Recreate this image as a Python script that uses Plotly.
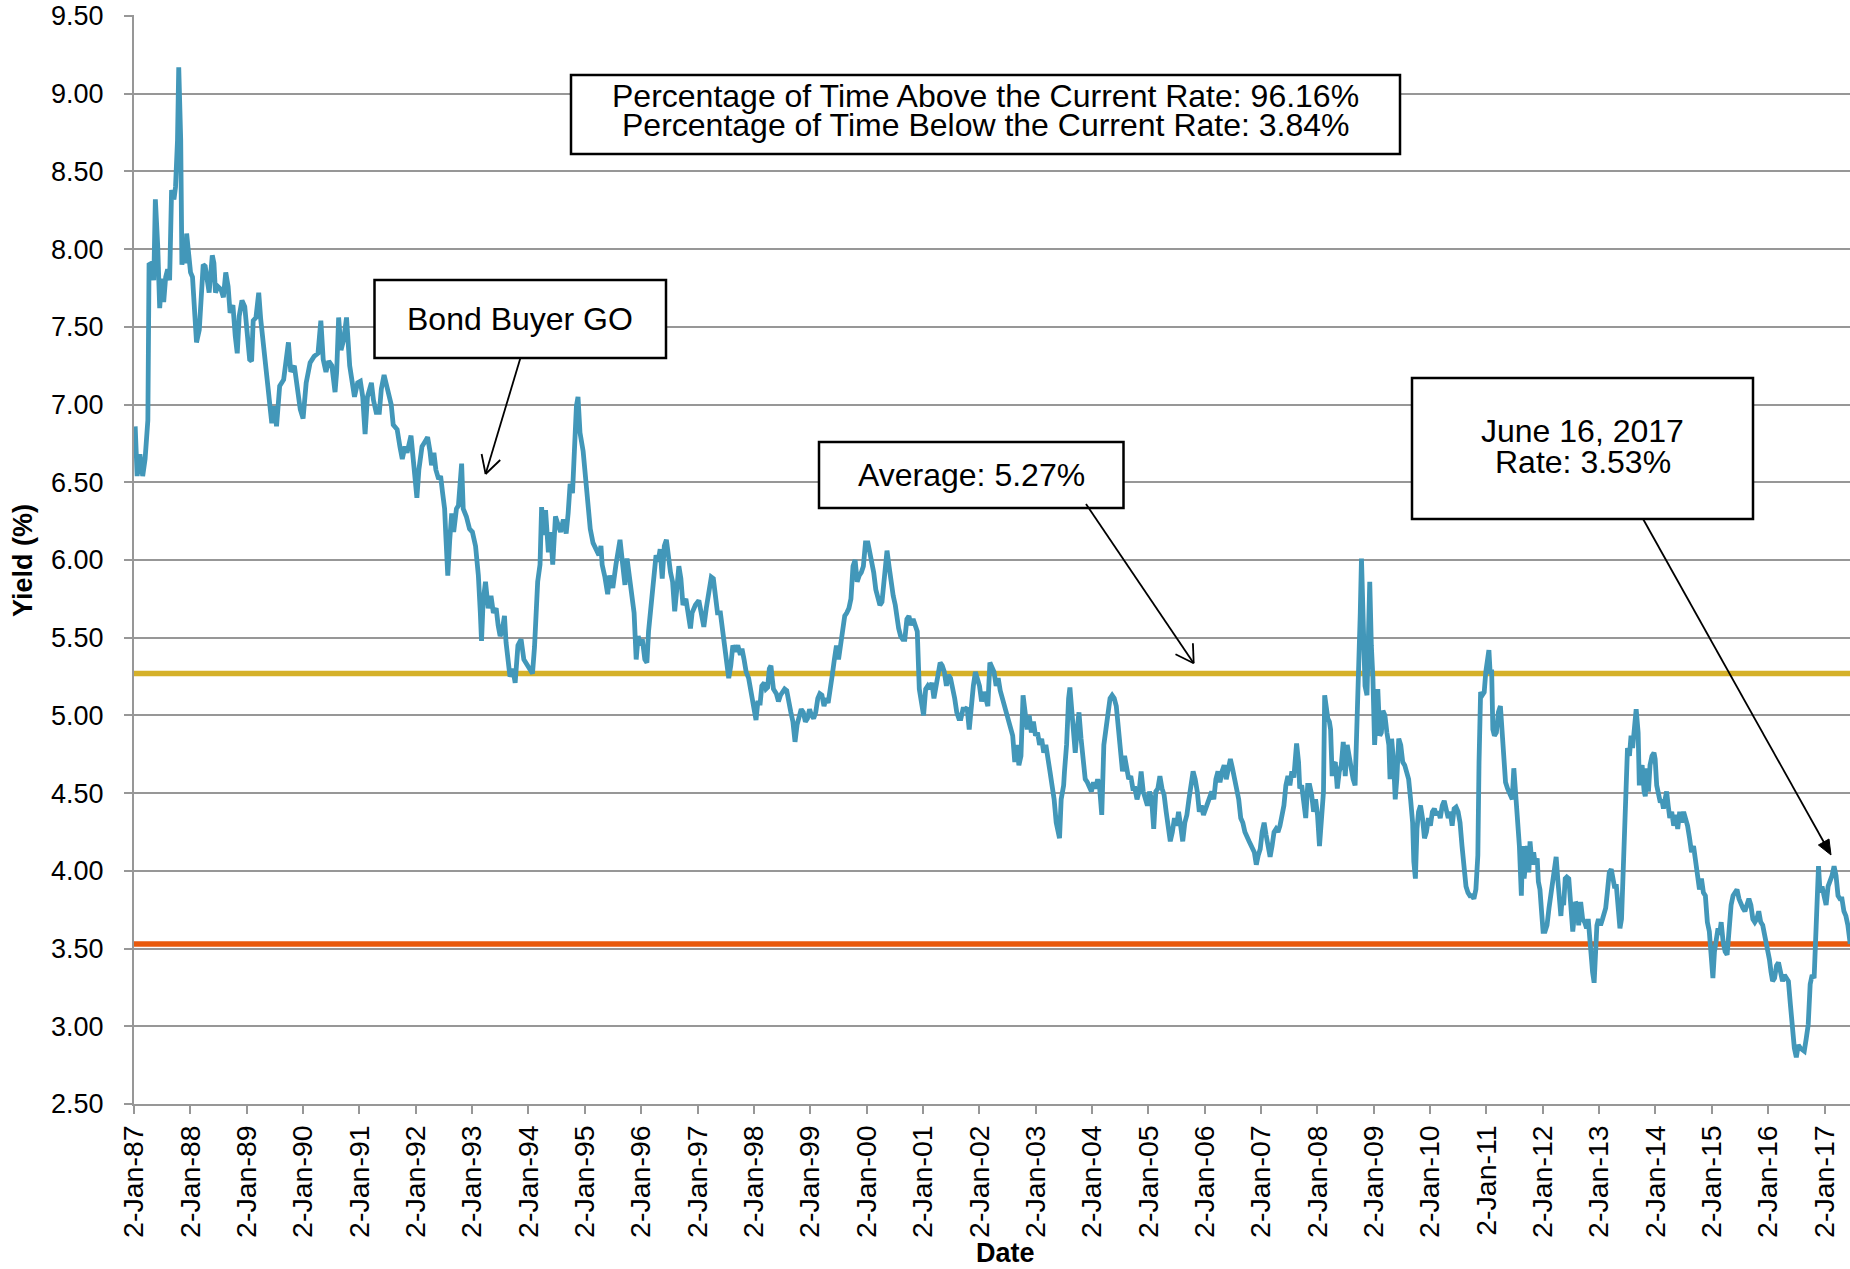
import pandas as pd
import plotly.graph_objects as go

# ---------------- DATA ----------------
# decimal years (measured from 2 Jan of each year) and Bond Buyer GO yields (%)
years_a = [1987.021, 1987.056, 1987.105, 1987.154, 1987.197, 1987.246, 1987.267, 1987.316, 1987.351, 1987.379,
           1987.421, 1987.456, 1987.492, 1987.527, 1987.562, 1987.597, 1987.632, 1987.667, 1987.709, 1987.737,
           1987.772, 1987.794, 1987.829, 1987.850, 1987.885, 1987.913, 1987.934, 1987.969, 1988.004, 1988.039,
           1988.067, 1988.088, 1988.110, 1988.159, 1988.194, 1988.229, 1988.264, 1988.299, 1988.334, 1988.390,
           1988.419, 1988.447, 1988.489, 1988.545, 1988.587, 1988.629, 1988.671, 1988.706, 1988.756, 1988.798,
           1988.833, 1988.868, 1988.917, 1988.966, 1989.001, 1989.051, 1989.086, 1989.114, 1989.163, 1989.212,
           1989.247, 1989.289, 1989.331, 1989.374, 1989.423, 1989.444, 1989.493, 1989.528, 1989.584, 1989.654,
           1989.739, 1989.781, 1989.844, 1989.893, 1989.949, 1989.999, 1990.055, 1990.125, 1990.195, 1990.265,
           1990.315, 1990.357, 1990.406, 1990.455, 1990.511, 1990.567, 1990.596, 1990.631, 1990.673, 1990.722,
           1990.771, 1990.827, 1990.876, 1990.912, 1990.968, 1991.017, 1991.059, 1991.101, 1991.143, 1991.213,
           1991.249, 1991.298, 1991.354, 1991.389, 1991.438, 1991.494, 1991.565, 1991.600, 1991.670, 1991.719,
           1991.761, 1991.810, 1991.846, 1991.916, 1991.951, 1991.986, 1992.021, 1992.056, 1992.112, 1992.162,
           1992.211, 1992.253, 1992.281, 1992.323, 1992.358, 1992.407, 1992.442, 1992.478, 1992.513, 1992.534,
           1992.569, 1992.604, 1992.639, 1992.674, 1992.723, 1992.758, 1992.815, 1992.843, 1992.899, 1992.955,
           1993.004, 1993.060, 1993.110, 1993.145, 1993.166, 1993.194, 1993.236, 1993.285, 1993.334, 1993.376,
           1993.426, 1993.461, 1993.496, 1993.531, 1993.573, 1993.601, 1993.636, 1993.671, 1993.721, 1993.763,
           1993.812, 1993.868, 1993.917, 1993.973, 1994.022, 1994.071, 1994.107, 1994.142, 1994.163, 1994.205,
           1994.233, 1994.268, 1994.303, 1994.353, 1994.395, 1994.430, 1994.479, 1994.514, 1994.570, 1994.619,
           1994.669, 1994.704, 1994.739, 1994.781, 1994.816, 1994.851, 1994.879, 1994.914, 1994.970, 1995.020,
           1995.055, 1995.097, 1995.146, 1995.202, 1995.251, 1995.287, 1995.308, 1995.357, 1995.406, 1995.441,
           1995.497, 1995.553, 1995.602]
yields_a = [6.86, 6.54, 6.68, 6.54, 6.65, 6.90, 7.90, 7.91, 7.80, 8.32,
            8.02, 7.62, 7.81, 7.66, 7.82, 7.87, 7.80, 8.38, 8.32, 8.40,
            8.70, 9.17, 8.70, 7.90, 7.97, 7.91, 8.10, 7.97, 7.85, 7.82,
            7.59, 7.50, 7.40, 7.48, 7.74, 7.90, 7.89, 7.78, 7.72, 7.96,
            7.91, 7.72, 7.76, 7.74, 7.69, 7.85, 7.76, 7.59, 7.64, 7.44,
            7.33, 7.57, 7.67, 7.63, 7.46, 7.29, 7.28, 7.54, 7.56, 7.72,
            7.55, 7.38, 7.25, 7.12, 6.95, 6.88, 6.99, 6.86, 7.12, 7.16,
            7.40, 7.21, 7.25, 7.12, 6.97, 6.91, 7.14, 7.27, 7.31, 7.33,
            7.54, 7.29, 7.21, 7.28, 7.25, 7.08, 7.21, 7.56, 7.35, 7.42,
            7.56, 7.25, 7.14, 7.05, 7.14, 7.15, 7.05, 6.81, 7.05, 7.14,
            7.03, 6.95, 6.95, 7.10, 7.19, 7.10, 7.00, 6.87, 6.84, 6.73,
            6.65, 6.73, 6.69, 6.80, 6.67, 6.52, 6.40, 6.58, 6.73, 6.76,
            6.79, 6.70, 6.61, 6.69, 6.58, 6.52, 6.54, 6.43, 6.33, 6.16,
            5.90, 6.13, 6.30, 6.18, 6.33, 6.35, 6.62, 6.33, 6.28, 6.20,
            6.18, 6.09, 5.90, 5.66, 5.48, 5.73, 5.86, 5.69, 5.77, 5.66,
            5.69, 5.58, 5.51, 5.54, 5.64, 5.47, 5.34, 5.25, 5.30, 5.21,
            5.45, 5.49, 5.36, 5.33, 5.30, 5.27, 5.44, 5.66, 5.86, 5.97,
            6.34, 6.16, 6.32, 6.05, 6.18, 5.97, 6.28, 6.24, 6.18, 6.26,
            6.17, 6.30, 6.49, 6.43, 6.73, 6.99, 7.05, 6.82, 6.70, 6.49,
            6.43, 6.20, 6.11, 6.07, 6.03, 6.09, 5.97, 5.89, 5.78, 5.90,
            5.82, 5.97, 6.11]

years_b = [1995.625, 1995.676, 1995.713, 1995.750, 1995.787, 1995.845, 1995.875, 1995.912, 1995.948, 1995.993,
           1996.022, 1996.066, 1996.103, 1996.132, 1996.169, 1996.206, 1996.243, 1996.265, 1996.302, 1996.338,
           1996.375, 1996.412, 1996.449, 1996.486, 1996.522, 1996.559, 1996.596, 1996.633, 1996.670, 1996.706,
           1996.743, 1996.795, 1996.839, 1996.876, 1996.905, 1996.964, 1997.023, 1997.074, 1997.111, 1997.155,
           1997.199, 1997.244, 1997.280, 1997.317, 1997.354, 1997.405, 1997.450, 1997.479, 1997.516, 1997.553,
           1997.589, 1997.626, 1997.670, 1997.714, 1997.759, 1997.788, 1997.825, 1997.862, 1997.906, 1997.935,
           1997.972, 1998.009, 1998.038, 1998.068, 1998.112, 1998.141, 1998.185, 1998.215, 1998.244, 1998.274,
           1998.303, 1998.325, 1998.347, 1998.399, 1998.436, 1998.472, 1998.509, 1998.546, 1998.583, 1998.620,
           1998.656, 1998.693, 1998.730, 1998.767, 1998.804, 1998.840, 1998.877, 1998.914, 1998.951, 1998.988,
           1999.024, 1999.061, 1999.098, 1999.135, 1999.171, 1999.208, 1999.245, 1999.282, 1999.319, 1999.355,
           1999.392, 1999.429, 1999.466, 1999.503, 1999.539, 1999.576, 1999.613, 1999.650, 1999.687, 1999.723,
           1999.760, 1999.797, 1999.834, 1999.871, 1999.907, 1999.944, 1999.981, 2000.025, 2000.054, 2000.091,
           2000.128, 2000.165, 2000.202, 2000.238, 2000.275, 2000.319, 2000.364, 2000.400, 2000.437, 2000.474,
           2000.511, 2000.540, 2000.570, 2000.606, 2000.643, 2000.680, 2000.717, 2000.753, 2000.790, 2000.827,
           2000.864, 2000.901, 2000.937, 2000.974, 2001.011, 2001.048, 2001.085, 2001.121, 2001.158, 2001.195,
           2001.232, 2001.269, 2001.305, 2001.342, 2001.379, 2001.416, 2001.453, 2001.489, 2001.526, 2001.563,
           2001.600, 2001.637, 2001.673, 2001.710, 2001.747, 2001.784, 2001.821, 2001.857, 2001.894, 2001.931,
           2001.968, 2002.004, 2002.041, 2002.078, 2002.115, 2002.152, 2002.188, 2002.225, 2002.262, 2002.299,
           2002.336, 2002.372, 2002.409, 2002.446, 2002.483, 2002.520, 2002.556, 2002.593, 2002.630, 2002.667,
           2002.703, 2002.740, 2002.777, 2002.814, 2002.851, 2002.887, 2002.924, 2002.961, 2002.998, 2003.035,
           2003.071, 2003.108, 2003.145, 2003.182, 2003.219, 2003.255, 2003.292, 2003.329, 2003.366, 2003.425,
           2003.454, 2003.498, 2003.513, 2003.550, 2003.586, 2003.609, 2003.645, 2003.675, 2003.704, 2003.734,
           2003.770, 2003.807, 2003.844, 2003.881, 2003.918, 2003.954, 2003.991, 2004.028, 2004.065, 2004.102,
           2004.138, 2004.175, 2004.212, 2004.249, 2004.286, 2004.322, 2004.359, 2004.396, 2004.433, 2004.470,
           2004.506, 2004.543, 2004.580, 2004.617, 2004.653, 2004.690, 2004.727, 2004.764, 2004.801, 2004.837,
           2004.874, 2004.911, 2004.948, 2004.985, 2005.021, 2005.058, 2005.095, 2005.132, 2005.169, 2005.205,
           2005.242, 2005.279, 2005.316, 2005.353, 2005.389, 2005.426, 2005.463, 2005.500, 2005.536, 2005.573,
           2005.610, 2005.647, 2005.684, 2005.720, 2005.757, 2005.794, 2005.831, 2005.868, 2005.904, 2005.941,
           2005.978, 2006.015, 2006.052, 2006.088, 2006.125, 2006.162, 2006.199, 2006.236, 2006.272, 2006.309,
           2006.346, 2006.383, 2006.420, 2006.456, 2006.493, 2006.530, 2006.567, 2006.604, 2006.640, 2006.677,
           2006.714, 2006.751, 2006.788]
yields_b = [6.13, 5.96, 5.84, 6.01, 5.92, 5.75, 5.66, 5.36, 5.51, 5.45,
            5.49, 5.36, 5.34, 5.54, 5.66, 5.84, 5.92, 6.03, 5.99, 6.07,
            5.88, 6.09, 6.13, 6.01, 5.92, 5.86, 5.67, 5.81, 5.96, 5.88,
            5.71, 5.75, 5.66, 5.56, 5.66, 5.71, 5.74, 5.66, 5.57, 5.69,
            5.79, 5.89, 5.88, 5.77, 5.66, 5.66, 5.54, 5.47, 5.39, 5.24,
            5.32, 5.45, 5.41, 5.45, 5.39, 5.43, 5.36, 5.28, 5.24, 5.17,
            5.13, 5.04, 4.97, 5.08, 5.08, 5.19, 5.21, 5.17, 5.18, 5.30,
            5.32, 5.24, 5.17, 5.14, 5.09, 5.13, 5.15, 5.17, 5.16, 5.06,
            5.02, 4.96, 4.83, 4.94, 5.00, 5.04, 5.02, 4.96, 4.98, 5.04,
            5.00, 4.98, 5.02, 5.11, 5.14, 5.13, 5.06, 5.11, 5.08, 5.15,
            5.26, 5.36, 5.45, 5.36, 5.45, 5.54, 5.64, 5.66, 5.69, 5.75,
            5.96, 6.00, 5.86, 5.90, 5.92, 5.96, 6.11, 6.11, 6.05, 6.01,
            5.92, 5.81, 5.75, 5.71, 5.73, 5.94, 6.06, 5.96, 5.84, 5.77,
            5.71, 5.62, 5.56, 5.51, 5.49, 5.49, 5.62, 5.64, 5.58, 5.62,
            5.58, 5.54, 5.17, 5.06, 5.00, 5.17, 5.19, 5.17, 5.21, 5.11,
            5.19, 5.30, 5.34, 5.32, 5.28, 5.19, 5.26, 5.24, 5.19, 5.11,
            5.02, 4.98, 4.98, 5.04, 5.04, 5.05, 4.91, 5.09, 5.19, 5.28,
            5.24, 5.19, 5.09, 5.15, 5.11, 5.06, 5.34, 5.30, 5.28, 5.19,
            5.24, 5.16, 5.11, 5.06, 5.03, 4.98, 4.94, 4.87, 4.70, 4.81,
            4.68, 4.74, 5.13, 5.02, 4.91, 5.00, 4.89, 4.96, 4.87, 4.89,
            4.81, 4.85, 4.76, 4.81, 4.70, 4.64, 4.55, 4.46, 4.31, 4.21,
            4.46, 4.55, 4.64, 4.81, 5.11, 5.18, 5.02, 4.89, 4.76, 4.89,
            5.02, 4.85, 4.74, 4.59, 4.57, 4.53, 4.51, 4.57, 4.53, 4.59,
            4.53, 4.36, 4.81, 4.91, 5.02, 5.11, 5.13, 5.11, 5.06, 4.89,
            4.81, 4.64, 4.74, 4.66, 4.59, 4.61, 4.53, 4.53, 4.46, 4.51,
            4.64, 4.51, 4.46, 4.42, 4.51, 4.46, 4.27, 4.51, 4.53, 4.61,
            4.53, 4.49, 4.38, 4.27, 4.19, 4.25, 4.34, 4.29, 4.38, 4.29,
            4.19, 4.31, 4.36, 4.46, 4.55, 4.64, 4.59, 4.51, 4.38, 4.42,
            4.36, 4.40, 4.44, 4.46, 4.51, 4.46, 4.59, 4.64, 4.57, 4.64,
            4.68, 4.59, 4.68, 4.72, 4.66, 4.59, 4.51, 4.46, 4.34, 4.31,
            4.25, 4.21, 4.19]

years_c = [2006.881, 2006.916, 2006.951, 2006.986, 2007.021, 2007.056, 2007.091, 2007.126, 2007.162, 2007.197,
           2007.232, 2007.267, 2007.302, 2007.337, 2007.372, 2007.407, 2007.442, 2007.478, 2007.513, 2007.548,
           2007.583, 2007.632, 2007.667, 2007.688, 2007.723, 2007.758, 2007.794, 2007.829, 2007.864, 2007.899,
           2007.934, 2007.969, 2008.004, 2008.039, 2008.074, 2008.110, 2008.131, 2008.159, 2008.187, 2008.215,
           2008.236, 2008.264, 2008.285, 2008.320, 2008.355, 2008.390, 2008.426, 2008.461, 2008.496, 2008.531,
           2008.566, 2008.601, 2008.636, 2008.671, 2008.706, 2008.742, 2008.763, 2008.784, 2008.812, 2008.847,
           2008.882, 2008.903, 2008.931, 2008.959, 2008.987, 2009.015, 2009.044, 2009.072, 2009.107, 2009.135,
           2009.163, 2009.198, 2009.233, 2009.268, 2009.289, 2009.317, 2009.353, 2009.381, 2009.409, 2009.444,
           2009.479, 2009.514, 2009.549, 2009.584, 2009.619, 2009.654, 2009.690, 2009.711, 2009.739, 2009.767,
           2009.795, 2009.830, 2009.865, 2009.900, 2009.935, 2009.970, 2010.006, 2010.041, 2010.076, 2010.111,
           2010.146, 2010.181, 2010.216, 2010.251, 2010.287, 2010.322, 2010.357, 2010.392, 2010.427, 2010.462,
           2010.497, 2010.532, 2010.567, 2010.603, 2010.638, 2010.673, 2010.708, 2010.743, 2010.778, 2010.813,
           2010.848, 2010.869, 2010.897, 2010.926, 2010.961, 2010.989, 2011.024, 2011.045, 2011.066, 2011.094,
           2011.115, 2011.143, 2011.178, 2011.213, 2011.249, 2011.277, 2011.305, 2011.340, 2011.375, 2011.417,
           2011.459, 2011.487, 2011.515, 2011.551, 2011.586, 2011.621, 2011.642, 2011.670, 2011.698, 2011.726,
           2011.754, 2011.775, 2011.810, 2011.839, 2011.867, 2011.902, 2011.923, 2011.951, 2011.979, 2012.007,
           2012.042, 2012.077, 2012.112, 2012.147, 2012.183, 2012.218, 2012.239, 2012.267, 2012.288, 2012.323,
           2012.344, 2012.372, 2012.400, 2012.428, 2012.463, 2012.499, 2012.534, 2012.555, 2012.583, 2012.611,
           2012.639, 2012.674, 2012.709, 2012.744, 2012.779, 2012.808, 2012.836, 2012.857, 2012.885, 2012.913,
           2012.934, 2012.962, 2012.990, 2013.025, 2013.060, 2013.088, 2013.116, 2013.145, 2013.180, 2013.215,
           2013.243, 2013.271, 2013.306, 2013.341, 2013.369, 2013.397, 2013.426, 2013.454, 2013.482, 2013.503,
           2013.538, 2013.566, 2013.594, 2013.622, 2013.657, 2013.692, 2013.713, 2013.735, 2013.763, 2013.798,
           2013.819, 2013.847, 2013.875, 2013.903, 2013.938, 2013.973, 2013.994, 2014.022, 2014.058, 2014.086,
           2014.114, 2014.142, 2014.170, 2014.198, 2014.226, 2014.254, 2014.289, 2014.324, 2014.360, 2014.395,
           2014.430, 2014.465, 2014.500, 2014.535, 2014.570, 2014.605, 2014.640, 2014.676, 2014.711, 2014.746,
           2014.781, 2014.816, 2014.851, 2014.886, 2014.921, 2014.956, 2014.992, 2015.020, 2015.048, 2015.076,
           2015.111, 2015.139, 2015.167, 2015.202, 2015.237, 2015.272, 2015.308, 2015.343, 2015.378, 2015.413,
           2015.448, 2015.483, 2015.518, 2015.553, 2015.588, 2015.624, 2015.659, 2015.694, 2015.729, 2015.764,
           2015.799, 2015.834, 2015.869, 2015.904, 2015.940, 2015.975, 2015.996, 2016.024, 2016.052, 2016.080,
           2016.115, 2016.150, 2016.185, 2016.221, 2016.256, 2016.291, 2016.326, 2016.361, 2016.396, 2016.431,
           2016.466, 2016.501, 2016.537, 2016.572, 2016.607, 2016.642, 2016.677, 2016.712, 2016.747, 2016.782,
           2016.817, 2016.838, 2016.867, 2016.895, 2016.923, 2016.958, 2016.993, 2017.028, 2017.063, 2017.098,
           2017.133, 2017.169, 2017.204, 2017.239, 2017.274, 2017.309, 2017.344, 2017.379, 2017.414, 2017.456]
yields_c = [4.12, 4.04, 4.10, 4.14, 4.25, 4.31, 4.23, 4.16, 4.09, 4.16,
            4.25, 4.27, 4.25, 4.29, 4.34, 4.42, 4.55, 4.61, 4.55, 4.64,
            4.60, 4.82, 4.70, 4.53, 4.55, 4.46, 4.34, 4.55, 4.55, 4.49,
            4.38, 4.46, 4.36, 4.16, 4.34, 4.51, 5.13, 5.02, 4.98, 4.96,
            4.91, 4.61, 4.68, 4.70, 4.53, 4.64, 4.68, 4.83, 4.61, 4.81,
            4.72, 4.68, 4.59, 4.55, 4.91, 5.28, 5.66, 6.01, 5.56, 5.19,
            5.13, 5.45, 5.86, 5.45, 5.24, 4.81, 5.02, 5.17, 4.87, 4.89,
            5.03, 5.00, 4.89, 4.81, 4.59, 4.85, 4.70, 4.46, 4.59, 4.85,
            4.81, 4.70, 4.68, 4.64, 4.59, 4.46, 4.31, 4.06, 3.95, 4.27,
            4.38, 4.42, 4.34, 4.21, 4.25, 4.34, 4.29, 4.38, 4.40, 4.36,
            4.38, 4.34, 4.42, 4.45, 4.38, 4.34, 4.38, 4.29, 4.40, 4.41,
            4.38, 4.31, 4.16, 4.01, 3.90, 3.86, 3.84, 3.84, 3.82, 3.88,
            4.10, 4.70, 5.15, 5.13, 5.15, 5.28, 5.41, 5.42, 5.28, 5.28,
            4.91, 4.87, 4.89, 5.02, 5.06, 4.91, 4.70, 4.57, 4.53, 4.49,
            4.46, 4.66, 4.53, 4.38, 4.16, 3.84, 4.16, 3.95, 4.10, 4.16,
            3.99, 4.19, 4.04, 4.12, 4.04, 4.08, 3.93, 3.88, 3.74, 3.61,
            3.61, 3.65, 3.76, 3.86, 3.99, 4.04, 4.09, 3.95, 3.82, 3.71,
            3.82, 3.78, 3.95, 3.96, 3.95, 3.76, 3.61, 3.69, 3.80, 3.78,
            3.65, 3.80, 3.69, 3.67, 3.63, 3.69, 3.56, 3.39, 3.35, 3.28,
            3.46, 3.65, 3.69, 3.65, 3.69, 3.74, 3.76, 3.86, 3.99, 4.01,
            3.97, 3.90, 3.90, 3.78, 3.63, 3.69, 4.06, 4.38, 4.64, 4.79,
            4.74, 4.87, 4.79, 4.91, 5.04, 4.89, 4.55, 4.64, 4.68, 4.51,
            4.48, 4.66, 4.51, 4.68, 4.74, 4.76, 4.72, 4.55, 4.49, 4.44,
            4.46, 4.40, 4.46, 4.51, 4.42, 4.34, 4.38, 4.29, 4.36, 4.27,
            4.38, 4.31, 4.38, 4.34, 4.29, 4.21, 4.12, 4.16, 4.08, 3.99,
            3.88, 3.95, 3.86, 3.84, 3.67, 3.61, 3.39, 3.31, 3.48, 3.56,
            3.63, 3.59, 3.67, 3.54, 3.48, 3.46, 3.69, 3.78, 3.84, 3.86,
            3.88, 3.82, 3.78, 3.76, 3.74, 3.78, 3.82, 3.78, 3.69, 3.67,
            3.69, 3.74, 3.67, 3.65, 3.59, 3.54, 3.49, 3.43, 3.35, 3.29,
            3.31, 3.39, 3.41, 3.33, 3.29, 3.33, 3.31, 3.29, 3.14, 2.99,
            2.86, 2.80, 2.88, 2.86, 2.85, 2.84, 2.92, 3.01, 3.27, 3.33,
            3.31, 3.52, 3.88, 4.03, 3.86, 3.90, 3.84, 3.78, 3.90, 3.93,
            3.97, 4.03, 3.97, 3.84, 3.82, 3.82, 3.74, 3.71, 3.65, 3.53]

average_rate = 5.27
current_rate = 3.53
current_date = "2017-06-16"
start_date = "1987-01-02"
tick_years = list(range(1987, 2018))
tick_labels = ["2-Jan-%02d" % (y % 100) for y in tick_years]
y_ticks = [2.5, 3.0, 3.5, 4.0, 4.5, 5.0, 5.5, 6.0, 6.5, 7.0, 7.5, 8.0, 8.5, 9.0, 9.5]


def dec_to_date(d):
    yr = int(d)
    base = pd.Timestamp(yr, 1, 2)
    return base + pd.Timedelta(days=(d - yr) * 365.25)


years = years_a + years_b + years_c
yields = yields_a + yields_b + yields_c
dates = [dec_to_date(d) for d in years]

# ---------------- LAYOUT GEOMETRY ----------------
# body margin is reset to 0 by a post script, so figure pixels == page pixels
W_FIG, H_FIG = 1850, 1269
PX_PER_UNIT = 155.43
Y_LO, Y_HI = 2.5, 9.5 + 1.0 / PX_PER_UNIT          # a hair of headroom so the 9.50 grid line is drawn
PLOT_L, PLOT_R, PLOT_B = 134, 1850, 1104           # plot area in page pixels
PLOT_T = PLOT_B - (Y_HI - Y_LO) * PX_PER_UNIT
L = PLOT_L
T = PLOT_T
R = W_FIG - PLOT_R
B = H_FIG - PLOT_B
PW = PLOT_R - PLOT_L
PH = PLOT_B - PLOT_T


def px(x):
    return (x - PLOT_L) / PW


def py(y):
    return 1 - (y - PLOT_T) / PH


FONT = "Liberation Sans, Arial, Helvetica, sans-serif"
BLUE = "#4297B9"
GOLD = "#D5B12A"
ORANGE = "#E8590C"
GRID = "#979797"

fig = go.Figure()
fig.add_trace(go.Scatter(x=[start_date, current_date], y=[average_rate, average_rate], mode="lines",
                         line=dict(color=GOLD, width=5.5), hoverinfo="skip", showlegend=False))
fig.add_trace(go.Scatter(x=[start_date, current_date], y=[current_rate, current_rate], mode="lines",
                         line=dict(color=ORANGE, width=5.5), hoverinfo="skip", showlegend=False))
fig.add_trace(go.Scatter(x=dates, y=yields, mode="lines", line=dict(color=BLUE, width=4.8),
                         name="Bond Buyer GO", showlegend=False))

shapes = []
annotations = []


def box(x0, y0, x1, y1):
    shapes.append(dict(type="rect", xref="paper", yref="paper", x0=px(x0), x1=px(x1), y0=py(y1), y1=py(y0),
                       line=dict(color="black", width=2.5), fillcolor="white", layer="above"))


def text(x, y, s, size=32):
    annotations.append(dict(xref="paper", yref="paper", x=px(x), y=py(y), text=s, showarrow=False,
                            xanchor="center", yanchor="middle", font=dict(family=FONT, size=size, color="black")))


def seg(x0, y0, x1, y1, w=1.8):
    shapes.append(dict(type="line", xref="paper", yref="paper", x0=px(x0), y0=py(y0), x1=px(x1), y1=py(y1),
                       line=dict(color="black", width=w), layer="above"))


# boxes
box(571, 75, 1400, 154)
box(374.5, 280, 666, 358)
box(819, 442, 1123.5, 508)
box(1412, 378, 1753, 519)

text(985.5, 96, "Percentage of Time Above the Current Rate: 96.16%")
text(985.5, 125, "Percentage of Time Below the Current Rate: 3.84%")
text(520, 319, "Bond Buyer GO")
text(971, 475, "Average: 5.27%")
text(1582.5, 431, "June 16, 2017")
text(1582.5, 462, "Rate: 3.53%")

# arrows (open V heads)
seg(520.4, 358, 485.6, 474)
seg(485.6, 474, 481.6, 454)
seg(485.6, 474, 500.2, 460)
seg(1086, 504, 1193.7, 663.3)
seg(1193.7, 663.3, 1175.5, 654.3)
seg(1193.7, 663.3, 1192.9, 643.3)
# June arrow with filled head
seg(1643.2, 519.3, 1826, 846)
tip = (1831, 855)
b1 = (1818.4, 845.0)
b2 = (1829.0, 839.0)
shapes.append(dict(type="path", xref="paper", yref="paper",
                   path="M %f %f L %f %f L %f %f Z" % (px(tip[0]), py(tip[1]), px(b1[0]), py(b1[1]),
                                                         px(b2[0]), py(b2[1])),
                   fillcolor="black", line=dict(color="black", width=1), layer="above"))

# axis titles
annotations.append(dict(xref="paper", yref="paper", x=px(1005), y=py(1253), text="<b>Date</b>",
                        showarrow=False, xanchor="center", yanchor="middle",
                        font=dict(family=FONT, size=27, color="black")))
annotations.append(dict(xref="paper", yref="paper", x=px(23), y=py(561), text="<b>Yield (%)</b>",
                        showarrow=False, xanchor="center", yanchor="middle", textangle=-90,
                        font=dict(family=FONT, size=27, color="black")))

fig.update_layout(
    width=W_FIG, height=H_FIG,
    margin=dict(l=L, r=R, t=T, b=B, pad=0, autoexpand=False),
    paper_bgcolor="white", plot_bgcolor="white",
    font=dict(family=FONT, size=27, color="black"),
    showlegend=False,
    shapes=shapes, annotations=annotations,
    xaxis=dict(type="date", range=[start_date, current_date], automargin=False,
               tickmode="array", tickvals=["%d-01-02" % y for y in tick_years], ticktext=tick_labels,
               tickangle=-90, ticks="outside", ticklen=8, tickwidth=2, tickcolor=GRID,
               showgrid=False, showline=True, linecolor=GRID, linewidth=2,
               tickfont=dict(family=FONT, size=28.5, color="black"), ticklabelstandoff=0,
               ticklabeloverflow="allow", zeroline=False),
    yaxis=dict(range=[Y_LO, Y_HI], tickmode="array", tickvals=y_ticks, automargin=False,
               ticktext=["%.2f" % v for v in y_ticks],
               ticks="outside", ticklen=8, tickwidth=2, tickcolor=GRID,
               showgrid=True, gridcolor=GRID, gridwidth=2,
               showline=True, linecolor=GRID, linewidth=2, zeroline=False,
               tickfont=dict(family=FONT, size=27, color="black"), ticklabelstandoff=15,
               ticklabeloverflow="allow"),
)

fig.write_html("out.html", config={"displayModeBar": False},
               post_script="document.body.style.margin='0px'; document.body.style.overflow='hidden';")
